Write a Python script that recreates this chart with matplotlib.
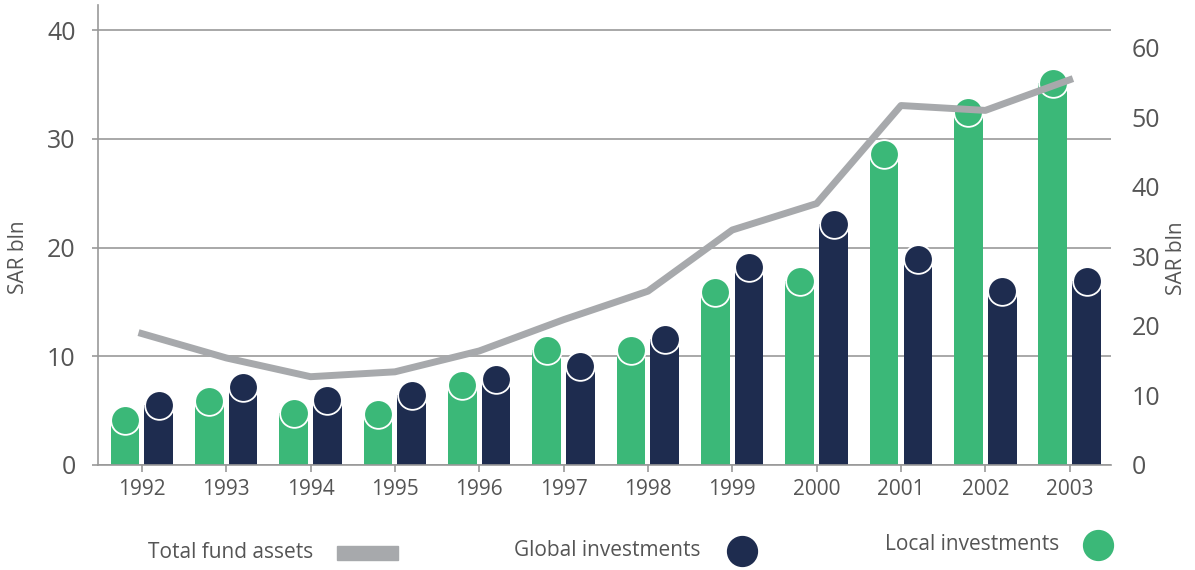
import matplotlib

matplotlib.use("Agg")
import matplotlib.pyplot as plt
import numpy as np
from matplotlib.lines import Line2D
from matplotlib.patches import Rectangle

plt.rcParams["font.family"] = ["Open Sans", "DejaVu Sans"]

YEARS = ["1992", "1993", "1994", "1995", "1996", "1997", "1998", "1999",
         "2000", "2001", "2002", "2003"]
LOCAL = [4.1, 5.9, 4.75, 4.65, 7.4, 10.6, 10.6, 15.9, 16.9, 28.6, 32.5, 35.1]
GLOBAL = [5.5, 7.15, 6.0, 6.4, 7.9, 9.1, 11.6, 18.2, 22.2, 18.9, 16.0, 16.9]
TOTAL = [18.9, 15.4, 12.7, 13.4, 16.4, 20.9, 25.0, 33.8, 37.6, 51.7, 51.0, 55.4]

GREEN = "#3bb878"
NAVY = "#1e2c4f"
LINE = "#a7a9ac"
TEXT = "#555555"
GRID = "#999999"

fig = plt.figure(figsize=(11.95, 5.70), dpi=100)
ax = fig.add_axes([98 / 1195, 1 - 465 / 570, (1111 - 98) / 1195, 460 / 570])

x = np.arange(len(YEARS))
w = 0.34
off = 0.2
# circle diameter in points equal to bar width in pixels
cap = (w * 84.4) * 72 / 100

ax.bar(x - off, LOCAL, width=w, color=GREEN, zorder=2)
ax.bar(x + off, GLOBAL, width=w, color=NAVY, zorder=2)
ax.scatter(x - off, LOCAL, s=cap ** 2, color=GREEN, edgecolor="white", linewidth=1.3, zorder=3)
ax.scatter(x + off, GLOBAL, s=cap ** 2, color=NAVY, edgecolor="white", linewidth=1.3, zorder=3)

ax.set_xlim(-0.52, 11.49)
ax.set_ylim(0, 42.3)
ax.set_yticks([0, 10, 20, 30, 40])
ax.set_xticks(x)
ax.set_xticklabels(YEARS)
ax.grid(axis="y", color=GRID, linewidth=1.2)
ax.set_axisbelow(True)
for s in ["top", "right"]:
    ax.spines[s].set_visible(False)
for s in ["left", "bottom"]:
    ax.spines[s].set_color(GRID)
    ax.spines[s].set_linewidth(1.2)
ax.tick_params(axis="x", length=5, width=1.2, color=GRID, pad=5, labelsize=15, labelcolor=TEXT)
ax.tick_params(axis="y", length=4, width=1.2, color=GRID, pad=12, labelsize=18, labelcolor=TEXT)

ax2 = ax.twinx()
ax2.plot(x, TOTAL, color=LINE, linewidth=5, solid_capstyle="projecting", zorder=4)
ax2.set_ylim(0, 42.3 * 10.87 / 6.95)
ax2.set_yticks([0, 10, 20, 30, 40, 50, 60])
for s in ax2.spines.values():
    s.set_visible(False)
ax2.tick_params(axis="y", length=0, pad=15, labelsize=18, labelcolor=TEXT)

fig.text(18 / 1195, 1 - 257 / 570, "SAR bln", rotation=90, ha="center", va="center",
         fontsize=15, color=TEXT)
fig.text(1176 / 1195, 1 - 258 / 570, "SAR bln", rotation=90, ha="center", va="center",
         fontsize=15, color=TEXT)

# legend
fig.text(148 / 1195, 1 - 552 / 570, "Total fund assets", ha="left", va="center",
         fontsize=15, color=TEXT)
fig.add_artist(Rectangle((337 / 1195, 1 - 560 / 570), 61 / 1195, 14 / 570,
                         transform=fig.transFigure, color=LINE))
fig.text(514 / 1195, 1 - 551 / 570, "Global investments", ha="left", va="center",
         fontsize=15, color=TEXT)
fig.add_artist(Line2D([742 / 1195], [1 - 551 / 570], marker="o", markersize=21.5,
                      color=NAVY, linestyle="none", transform=fig.transFigure))
fig.text(885 / 1195, 1 - 545 / 570, "Local investments", ha="left", va="center",
         fontsize=15, color=TEXT)
fig.add_artist(Line2D([1098 / 1195], [1 - 545 / 570], marker="o", markersize=21.5,
                      color=GREEN, linestyle="none", transform=fig.transFigure))

fig.savefig("out.png", dpi=100)
